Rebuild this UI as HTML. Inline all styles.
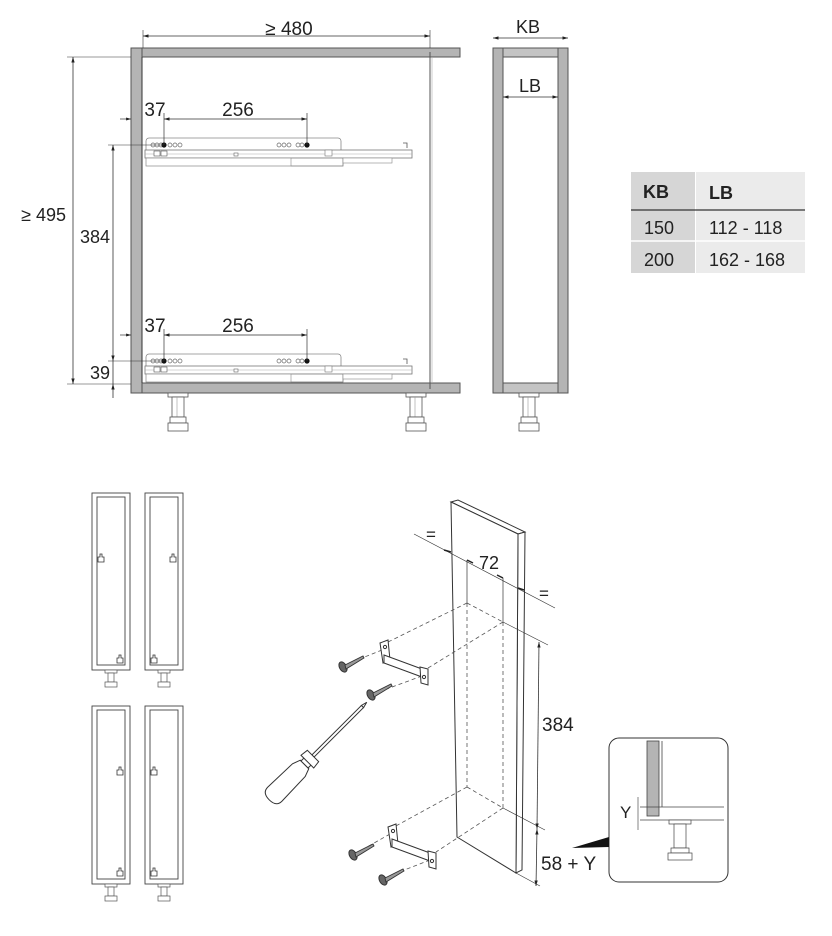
<!DOCTYPE html>
<html><head><meta charset="utf-8"><style>
html,body{margin:0;padding:0;background:#fff;}
svg{display:block;}
text{font-family:"Liberation Sans",sans-serif;fill:#222;}
</style></head><body>
<svg width="832" height="936" viewBox="0 0 832 936" xmlns="http://www.w3.org/2000/svg">
<defs>
<marker id="a" viewBox="0 0 10 10" refX="10" refY="5" markerWidth="7" markerHeight="7" orient="auto-start-reverse"><path d="M0,2 L10,5 L0,8z" fill="#222"/></marker>
<g id="slide">
 <rect x="146" y="138" width="195" height="17" rx="3" fill="#fff" stroke="#888" stroke-width="0.8"/>
 <g fill="none" stroke="#666" stroke-width="0.7">
  <circle cx="153" cy="145" r="2"/><circle cx="157" cy="145" r="2"/><circle cx="161" cy="145" r="2"/>
  <circle cx="170" cy="145" r="2"/><circle cx="175" cy="145" r="2"/><circle cx="180" cy="145" r="2"/>
  <circle cx="279" cy="145" r="2"/><circle cx="284" cy="145" r="2"/><circle cx="289" cy="145" r="2"/>
  <circle cx="298" cy="145" r="2"/><circle cx="302" cy="145" r="2"/>
 </g>
 <circle cx="164" cy="145" r="2.6" fill="#111"/><circle cx="307" cy="145" r="2.6" fill="#111"/>
 <rect x="145" y="150" width="267" height="8" fill="#fff" stroke="#777" stroke-width="0.8"/>
 <line x1="145" y1="154" x2="412" y2="154" stroke="#aaa" stroke-width="0.6"/>
 <rect x="146" y="158" width="197" height="8" fill="#fff" stroke="#888" stroke-width="0.7"/>
 <rect x="291" y="158" width="52" height="8" fill="none" stroke="#888" stroke-width="0.6"/>
 <rect x="343" y="158" width="49" height="5" fill="#fff" stroke="#888" stroke-width="0.6"/>
 <rect x="325" y="150" width="7" height="6" fill="#fff" stroke="#777" stroke-width="0.6"/>
 <rect x="154" y="151" width="6" height="5" fill="#fff" stroke="#555" stroke-width="0.6"/>
 <rect x="161" y="151" width="6" height="5" fill="#fff" stroke="#555" stroke-width="0.6"/>
 <rect x="234" y="153" width="4" height="3" fill="#fff" stroke="#666" stroke-width="0.6"/>
 <path d="M403,143 h4 v5" fill="none" stroke="#555" stroke-width="0.8"/>
</g>
<g id="foot">
 <rect x="0" y="0" width="20" height="4" fill="#fff" stroke="#555" stroke-width="0.8"/>
 <rect x="4" y="4" width="12" height="20" fill="#fff" stroke="#555" stroke-width="0.8"/>
 <line x1="9" y1="4" x2="9" y2="24" stroke="#999" stroke-width="0.6"/>
 <rect x="2" y="24" width="16" height="6" fill="#fff" stroke="#555" stroke-width="0.8"/>
 <rect x="0" y="30" width="20" height="8" fill="#fff" stroke="#555" stroke-width="0.8"/>
</g>
<g id="smallfoot">
 <rect x="0" y="0" width="12" height="3" fill="#fff" stroke="#555" stroke-width="0.7"/>
 <rect x="3" y="3" width="6" height="9" fill="#fff" stroke="#555" stroke-width="0.7"/>
 <rect x="0" y="12" width="12" height="5" fill="#fff" stroke="#555" stroke-width="0.7"/>
</g>
<g id="hk">
 <path d="M-3,0 v-5 h2 v-3 h2 v3 h2 v5 z" fill="#fff" stroke="#333" stroke-width="0.8"/>
</g>
<g id="screw">
 <ellipse cx="0" cy="0" rx="3.5" ry="5.5" fill="#666" stroke="#333" stroke-width="1" transform="rotate(-30)"/>
 <path d="M2,-2 L20,-11 L21,-9 L3,2z" fill="#999" stroke="#333" stroke-width="0.9"/>
</g>
<g id="bracket" fill="#fff" stroke="#333" stroke-width="1">
 <path d="M0,3 L8,0 L10,20 L3,23 Z"/>
 <path d="M4,15 L42,29 L42,37 L4,23 Z"/>
 <path d="M40,27 L48,29 L48,45 L41,43 Z"/>
 <circle cx="5" cy="7" r="1.6" fill="none"/>
 <circle cx="44" cy="37" r="1.6" fill="none"/>
</g>
</defs>

<!-- MAIN CABINET -->
<rect x="131" y="48" width="11" height="345" fill="#b4b4b4" stroke="#555" stroke-width="1"/>
<rect x="142" y="48" width="318" height="9" fill="#b4b4b4" stroke="#555" stroke-width="1"/>
<rect x="142" y="383" width="318" height="10" fill="#b4b4b4" stroke="#555" stroke-width="1"/>
<line x1="142" y1="57" x2="142" y2="383" stroke="#333" stroke-width="1"/>
<line x1="430" y1="52" x2="430" y2="389" stroke="#555" stroke-width="1"/>
<line x1="432" y1="57" x2="432" y2="383" stroke="#aaa" stroke-width="0.6"/>
<use href="#slide"/>
<use href="#slide" transform="translate(0,216)"/>
<use href="#foot" x="168" y="393"/>
<use href="#foot" x="406" y="393"/>

<!-- dims main -->
<line x1="143" y1="36" x2="430" y2="36" stroke="#333" stroke-width="0.8" marker-start="url(#a)" marker-end="url(#a)"/>
<line x1="143" y1="30" x2="143" y2="48" stroke="#333" stroke-width="0.6"/>
<line x1="430" y1="30" x2="430" y2="48" stroke="#333" stroke-width="0.6"/>
<text x="289" y="35" font-size="19" text-anchor="middle">≥ 480</text>

<line x1="67" y1="57" x2="131" y2="57" stroke="#333" stroke-width="0.6"/>
<line x1="67" y1="384" x2="131" y2="384" stroke="#333" stroke-width="0.6"/>
<line x1="73" y1="57" x2="73" y2="384" stroke="#333" stroke-width="0.8" marker-start="url(#a)" marker-end="url(#a)"/>
<text x="66" y="221" font-size="18" text-anchor="end">≥ 495</text>

<line x1="108" y1="145" x2="164" y2="145" stroke="#333" stroke-width="0.6"/>
<line x1="108" y1="361" x2="164" y2="361" stroke="#333" stroke-width="0.6"/>
<line x1="113" y1="145" x2="113" y2="361" stroke="#333" stroke-width="0.8" marker-start="url(#a)" marker-end="url(#a)"/>
<text x="110" y="243" font-size="18" text-anchor="end">384</text>
<line x1="113" y1="361" x2="113" y2="384" stroke="#333" stroke-width="0.8"/>
<line x1="113" y1="384" x2="113" y2="398" stroke="#333" stroke-width="0.8" marker-start="url(#a)"/>
<text x="110" y="379" font-size="18" text-anchor="end">39</text>

<g id="dim256">
<line x1="120" y1="119" x2="131" y2="119" stroke="#333" stroke-width="0.7" marker-end="url(#a)"/>
<line x1="164" y1="119" x2="307" y2="119" stroke="#333" stroke-width="0.8" marker-start="url(#a)" marker-end="url(#a)"/>
<line x1="164" y1="113" x2="164" y2="145" stroke="#333" stroke-width="0.7"/>
<line x1="307" y1="113" x2="307" y2="145" stroke="#333" stroke-width="0.7"/>
<text x="155" y="116" font-size="19" text-anchor="middle">37</text>
<text x="238" y="116" font-size="19" text-anchor="middle">256</text>
</g>
<use href="#dim256" transform="translate(0,216)"/>

<!-- SIDE CABINET -->
<rect x="493" y="48" width="10" height="345" fill="#b4b4b4" stroke="#555" stroke-width="1"/>
<rect x="558" y="48" width="10" height="345" fill="#b4b4b4" stroke="#555" stroke-width="1"/>
<rect x="503" y="48" width="55" height="9" fill="#c4c4c4" stroke="#555" stroke-width="1"/>
<rect x="503" y="383" width="55" height="10" fill="#c4c4c4" stroke="#555" stroke-width="1"/>
<use href="#foot" x="519" y="393"/>
<line x1="493" y1="38" x2="568" y2="38" stroke="#333" stroke-width="0.8" marker-start="url(#a)" marker-end="url(#a)"/>
<text x="528" y="33" font-size="18" text-anchor="middle">KB</text>
<line x1="503" y1="97" x2="558" y2="97" stroke="#333" stroke-width="0.8" marker-start="url(#a)" marker-end="url(#a)"/>
<text x="530" y="92" font-size="18" text-anchor="middle">LB</text>

<!-- TABLE -->
<rect x="631" y="172" width="64" height="101" fill="#d6d6d6"/>
<rect x="696" y="172" width="109" height="101" fill="#ebebeb"/>
<line x1="631" y1="241" x2="805" y2="241" stroke="#fff" stroke-width="1.5"/>
<line x1="631" y1="210" x2="805" y2="210" stroke="#333" stroke-width="1.2"/>
<text x="643" y="198" font-size="18" font-weight="bold">KB</text>
<text x="709" y="199" font-size="18" font-weight="bold">LB</text>
<text x="644" y="234" font-size="18">150</text>
<text x="709" y="234" font-size="18">112 - 118</text>
<text x="644" y="266" font-size="18">200</text>
<text x="709" y="266" font-size="18">162 - 168</text>

<!-- SMALL CABINETS -->
<g fill="#fff" stroke="#444" stroke-width="0.9">
 <rect x="92" y="493" width="38" height="177"/><rect x="97" y="497" width="28" height="168"/>
 <rect x="145" y="493" width="38" height="177"/><rect x="150" y="497" width="28" height="168"/>
 <rect x="92" y="706" width="38" height="178"/><rect x="97" y="710" width="28" height="169"/>
 <rect x="145" y="706" width="38" height="178"/><rect x="150" y="710" width="28" height="169"/>
</g>
<use href="#hk" x="101" y="562"/><use href="#hk" x="120" y="663"/>
<use href="#hk" x="173" y="562"/><use href="#hk" x="154" y="663"/>
<use href="#hk" x="120" y="775"/><use href="#hk" x="120" y="876"/>
<use href="#hk" x="154" y="775"/><use href="#hk" x="154" y="876"/>
<use href="#smallfoot" x="105" y="670"/><use href="#smallfoot" x="158" y="670"/>
<use href="#smallfoot" x="105" y="884"/><use href="#smallfoot" x="158" y="884"/>

<!-- PANEL ISO -->
<path d="M451,502 L458,500 L525,532 L518,534 Z" fill="#fff" stroke="#333" stroke-width="1"/>
<path d="M518,534 L525,532 L522,870 L516,873 Z" fill="#fff" stroke="#333" stroke-width="1"/>
<path d="M451,502 L518,534 L516,873 L457,837 Z" fill="#fff" stroke="#333" stroke-width="1"/>
<g stroke="#555" stroke-width="0.8" stroke-dasharray="4,3" fill="none">
 <line x1="467" y1="603" x2="467" y2="787"/>
 <line x1="503" y1="622" x2="503" y2="808"/>
 <line x1="467" y1="603" x2="503" y2="622"/>
 <line x1="467" y1="787" x2="503" y2="808"/>
 <line x1="467" y1="603" x2="386" y2="643"/>
 <line x1="503" y1="622" x2="428" y2="668"/>
 <line x1="467" y1="787" x2="394" y2="827"/>
 <line x1="503" y1="808" x2="436" y2="852"/>
 <line x1="382" y1="650" x2="352" y2="662"/>
 <line x1="422" y1="676" x2="384" y2="690"/>
 <line x1="390" y1="834" x2="360" y2="851"/>
 <line x1="430" y1="860" x2="394" y2="874"/>
</g>
<line x1="467" y1="560" x2="467" y2="603" stroke="#333" stroke-width="0.7"/>
<line x1="503" y1="578" x2="503" y2="622" stroke="#333" stroke-width="0.7"/>
<line x1="414" y1="534" x2="555" y2="608" stroke="#333" stroke-width="0.7"/>
<path d="M444,550 L451,552 M467,560 L473,563 M497,575 L503,578 M518,588 L524,590" stroke="#222" stroke-width="1.5"/>
<text x="431" y="540" font-size="17" text-anchor="middle">=</text>
<text x="489" y="569" font-size="18" text-anchor="middle">72</text>
<text x="544" y="599" font-size="17" text-anchor="middle">=</text>

<line x1="503" y1="622" x2="548" y2="645" stroke="#333" stroke-width="0.6"/>
<line x1="503" y1="808" x2="545" y2="830" stroke="#333" stroke-width="0.6"/>
<line x1="516" y1="873" x2="540" y2="886" stroke="#333" stroke-width="0.6"/>
<line x1="539" y1="642" x2="537" y2="829" stroke="#333" stroke-width="0.8" marker-start="url(#a)" marker-end="url(#a)"/>
<line x1="537" y1="829" x2="536" y2="886" stroke="#333" stroke-width="0.8" marker-start="url(#a)" marker-end="url(#a)"/>
<text x="542" y="731" font-size="19">384</text>
<text x="541" y="870" font-size="19">58 + Y</text>

<use href="#bracket" x="380" y="640"/>
<use href="#bracket" x="388" y="824"/>
<use href="#screw" x="343" y="667"/>
<use href="#screw" x="371" y="695"/>
<use href="#screw" x="353" y="855"/>
<use href="#screw" x="383" y="880"/>

<!-- screwdriver -->
<g transform="translate(272,797) rotate(-45)" stroke="#333" stroke-width="1" fill="#fff">
 <rect x="58" y="-1.5" width="70" height="3"/>
 <path d="M128,-1.5 L134,0 L128,1.5 Z"/>
 <path d="M4,-10 L38,-9 L46,-6 L46,6 L38,9 L4,10 Q-4,10 -4,0 Q-4,-10 4,-10 Z"/>
 <rect x="46" y="-5" width="8" height="10"/>
 <path d="M50,-9 L58,-8 L58,8 L50,9 Z"/>
</g>

<!-- INSET -->
<rect x="609" y="738" width="119" height="144" rx="10" fill="#fff" stroke="#333" stroke-width="1"/>
<path d="M572,848 L609,837 L609,847 Z" fill="#111"/>
<rect x="647" y="741" width="12" height="75" fill="#b4b4b4" stroke="#444" stroke-width="0.8"/>
<line x1="662" y1="741" x2="662" y2="807" stroke="#444" stroke-width="0.8"/>
<line x1="640" y1="807" x2="724" y2="807" stroke="#444" stroke-width="0.8"/>
<line x1="640" y1="820" x2="724" y2="820" stroke="#444" stroke-width="0.8"/>
<line x1="638" y1="797" x2="638" y2="830" stroke="#333" stroke-width="0.6"/>
<text x="620" y="818" font-size="17">Y</text>
<rect x="669" y="820" width="22" height="4" fill="#fff" stroke="#444" stroke-width="0.7"/>
<rect x="674" y="824" width="12" height="24" fill="#fff" stroke="#444" stroke-width="0.7"/>
<rect x="671" y="848" width="18" height="5" fill="#fff" stroke="#444" stroke-width="0.7"/>
<rect x="668" y="853" width="24" height="7" fill="#fff" stroke="#444" stroke-width="0.7"/>
</svg>
</body></html>
